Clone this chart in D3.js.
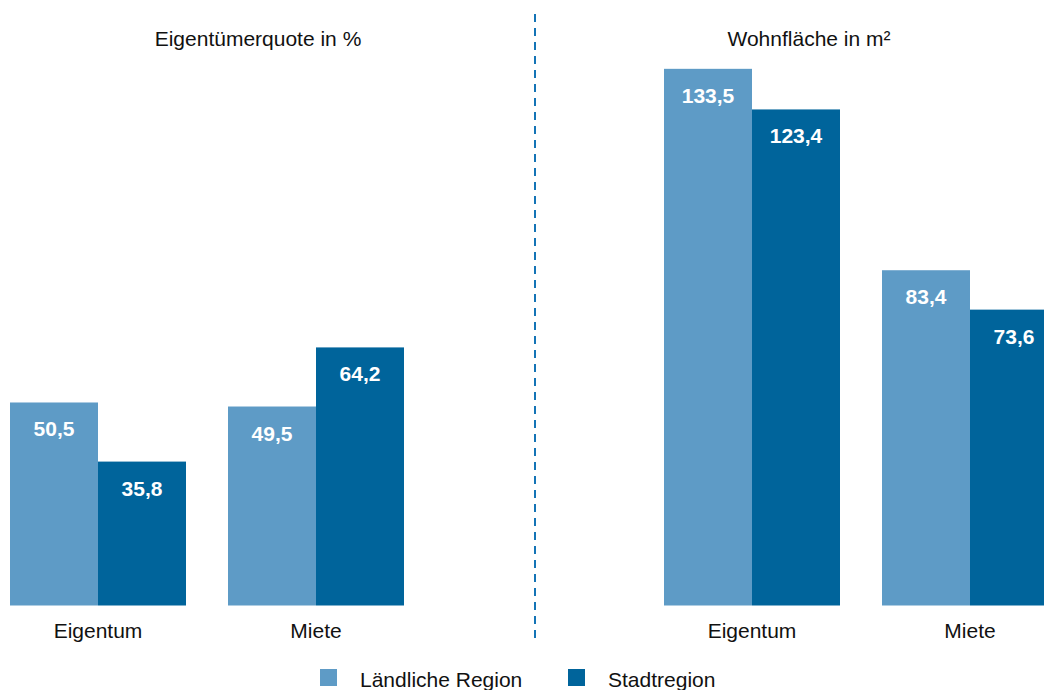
<!DOCTYPE html>
<html>
<head>
<meta charset="utf-8">
<script src="https://cdn.jsdelivr.net/npm/d3@7"></script>
<style>
  body { margin: 0; background: #fff; }
  svg text { font-family: "Liberation Sans", Arial, sans-serif; }
</style>
</head>
<body>
<svg id="chart" width="1044" height="690"></svg>
<script>
var categories = ['Eigentum', 'Miete'];
var series = ['Ländliche Region', 'Stadtregion'];
var panelTitles = ['Eigentümerquote in %', 'Wohnfläche in m²'];
// values per panel: [category][series]
var quoteValues = [[50.5, 35.8], [49.5, 64.2]];
var areaValues = [[133.5, 123.4], [83.4, 73.6]];
var colors = ['#5e9bc6', '#00649b'];

var svg = d3.select('#chart');
var baseline = 605.5;

var y = d3.scaleLinear()
    .domain([0, 140])
    .range([baseline, baseline - 140 * 4.02]);

var panels = [
    { title: panelTitles[0], values: quoteValues, left: 10, right: 404, titleX: 258 },
    { title: panelTitles[1], values: areaValues, left: 664, right: 1058, titleX: 809 }
];

panels.forEach(function(p) {
    var x0 = d3.scaleBand()
        .domain(categories)
        .range([p.left, p.right])
        .paddingInner(42 / 218)
        .paddingOuter(0);
    var x1 = d3.scaleBand()
        .domain(series)
        .range([0, x0.bandwidth()]);

    var g = svg.append('g');

    // title
    g.append('text')
        .attr('x', p.titleX)
        .attr('y', 46)
        .attr('text-anchor', 'middle')
        .attr('font-size', 21)
        .attr('fill', '#111')
        .text(p.title);

    categories.forEach(function(c, ci) {
        var grp = g.append('g')
            .attr('transform', 'translate(' + x0(c) + ',0)');
        grp.selectAll('rect')
            .data(p.values[ci])
            .enter()
            .append('rect')
            .attr('x', function(d, i) { return x1(series[i]); })
            .attr('y', function(d) { return y(d); })
            .attr('width', x1.bandwidth())
            .attr('height', function(d) { return y(0) - y(d); })
            .attr('fill', function(d, i) { return colors[i]; });
        grp.selectAll('text.val')
            .data(p.values[ci])
            .enter()
            .append('text')
            .attr('class', 'val')
            .attr('x', function(d, i) { return x1(series[i]) + x1.bandwidth() / 2; })
            .attr('y', function(d) { return y(d) + 34; })
            .attr('text-anchor', 'middle')
            .attr('font-size', 21)
            .attr('font-weight', 'bold')
            .attr('fill', '#fff')
            .text(function(d) { return d3.format('.1f')(d).replace('.', ','); });
        // category label
        g.append('text')
            .attr('x', x0(c) + x0.bandwidth() / 2)
            .attr('y', 638)
            .attr('text-anchor', 'middle')
            .attr('font-size', 21)
            .attr('fill', '#111')
            .text(c);
    });
});

// divider
svg.append('line')
    .attr('x1', 535).attr('x2', 535)
    .attr('y1', 14).attr('y2', 638)
    .attr('stroke', '#1474b6')
    .attr('stroke-width', 2)
    .attr('stroke-dasharray', '8,6');

// legend
var legendX = [320, 568];
series.forEach(function(s, i) {
    svg.append('rect')
        .attr('x', legendX[i]).attr('y', 669)
        .attr('width', 17).attr('height', 17)
        .attr('fill', colors[i]);
    svg.append('text')
        .attr('x', legendX[i] + 40)
        .attr('y', 687)
        .attr('font-size', 21)
        .attr('fill', '#111')
        .text(s);
});
</script>
</body>
</html>
